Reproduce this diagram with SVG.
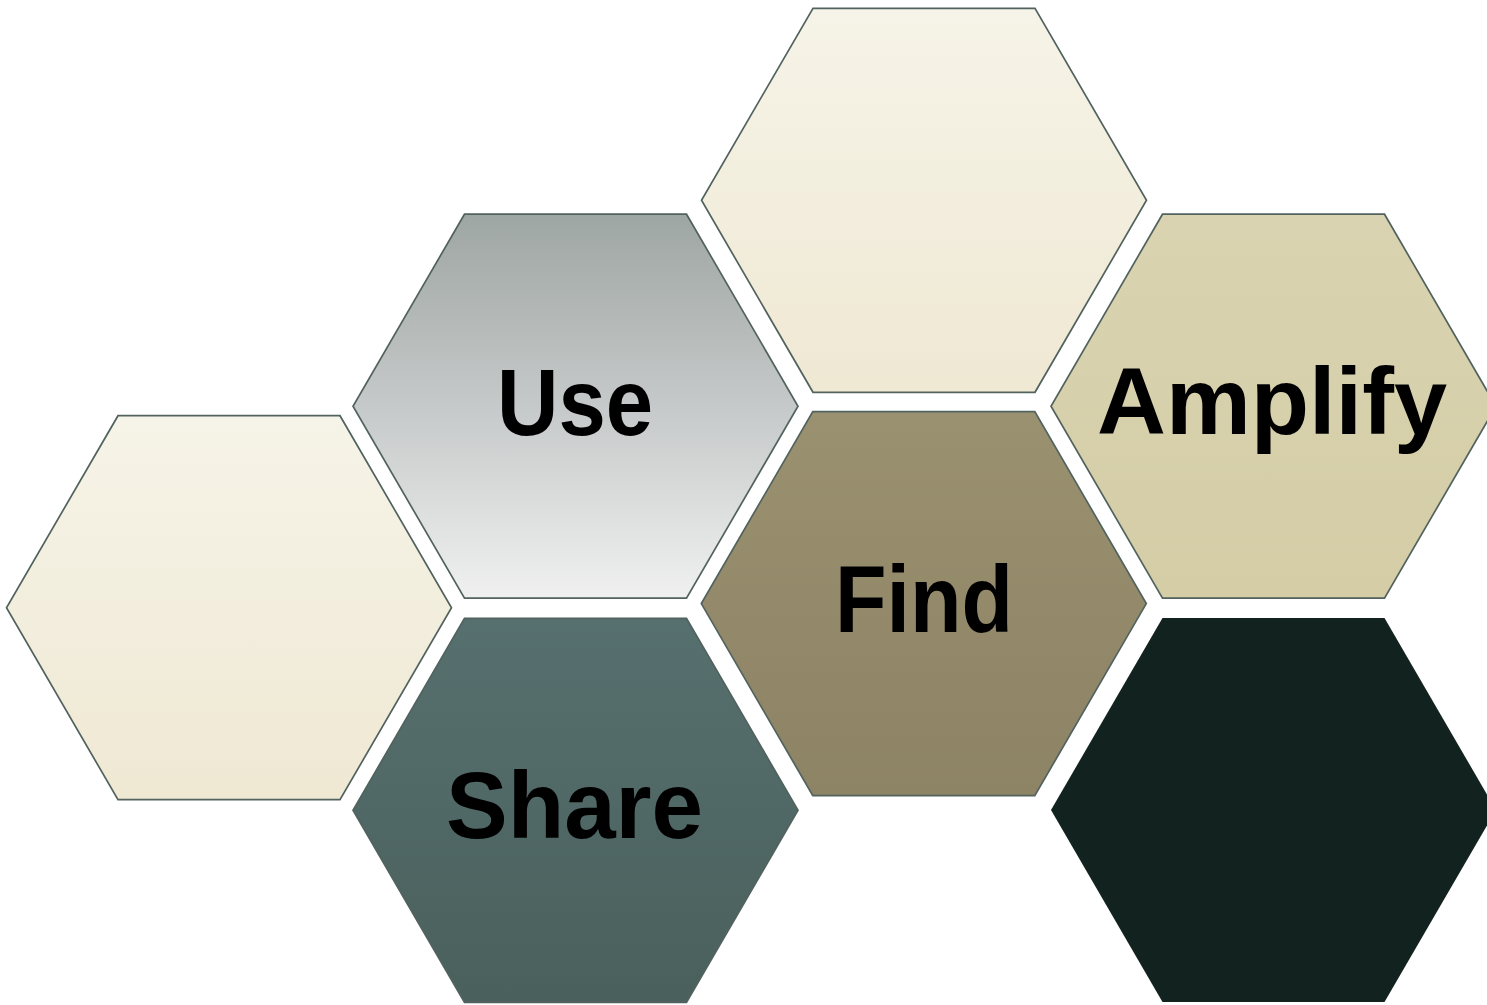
<svg xmlns="http://www.w3.org/2000/svg" width="1487" height="1005" viewBox="0 0 1487 1005">
<defs>
<linearGradient id="gCream" x1="0" y1="0" x2="0" y2="1"><stop offset="0" stop-color="#f6f4e8"/><stop offset="1" stop-color="#efe8d3"/></linearGradient>
<linearGradient id="gUse" x1="0" y1="0" x2="0" y2="1"><stop offset="0" stop-color="#9ea6a3"/><stop offset="0.5" stop-color="#c6c9c9"/><stop offset="1" stop-color="#f0f0f0"/></linearGradient>
<linearGradient id="gShare" x1="0" y1="0" x2="0" y2="1"><stop offset="0" stop-color="#56706f"/><stop offset="1" stop-color="#4a605c"/></linearGradient>
<linearGradient id="gFind" x1="0" y1="0" x2="0" y2="1"><stop offset="0" stop-color="#9a9170"/><stop offset="1" stop-color="#8d8365"/></linearGradient>
<linearGradient id="gAmp" x1="0" y1="0" x2="0" y2="1"><stop offset="0" stop-color="#d9d3b1"/><stop offset="1" stop-color="#d4cda6"/></linearGradient>
<polygon id="hex" points="-111,-192 111,-192 222.5,0 111,192 -111,192 -222.5,0"/>
</defs>
<style>
.h{stroke:#52625e;stroke-width:1.7}
.t{font-family:"Liberation Sans",Arial,sans-serif;font-weight:bold;font-size:95px;fill:#000;text-anchor:middle}
</style>
<rect width="1487" height="1005" fill="#fff"/>
<g id="hex-top"><use href="#hex" x="924" y="200.3" class="h" fill="url(#gCream)"/></g>
<g id="hex-use"><use href="#hex" x="575.5" y="406.2" class="h" fill="url(#gUse)"/><text class="t" x="575" y="435" textLength="156" lengthAdjust="spacingAndGlyphs">Use</text></g>
<g id="hex-left"><use href="#hex" x="229" y="607.7" class="h" fill="url(#gCream)"/></g>
<g id="hex-share"><use href="#hex" x="575.5" y="810.3" class="h" fill="url(#gShare)"/><text class="t" x="574.5" y="838" textLength="257" lengthAdjust="spacingAndGlyphs">Share</text></g>
<g id="hex-find"><use href="#hex" x="923.8" y="603.6" class="h" fill="url(#gFind)"/><text class="t" x="924" y="632" textLength="178" lengthAdjust="spacingAndGlyphs">Find</text></g>
<g id="hex-amplify"><use href="#hex" x="1273.5" y="406.2" class="h" fill="url(#gAmp)"/><text class="t" x="1272" y="434" textLength="350" lengthAdjust="spacingAndGlyphs">Amplify</text></g>
<g id="hex-dark"><use href="#hex" x="1273.5" y="810" fill="#12221f"/></g>
<g id="connectors"/>
</svg>
